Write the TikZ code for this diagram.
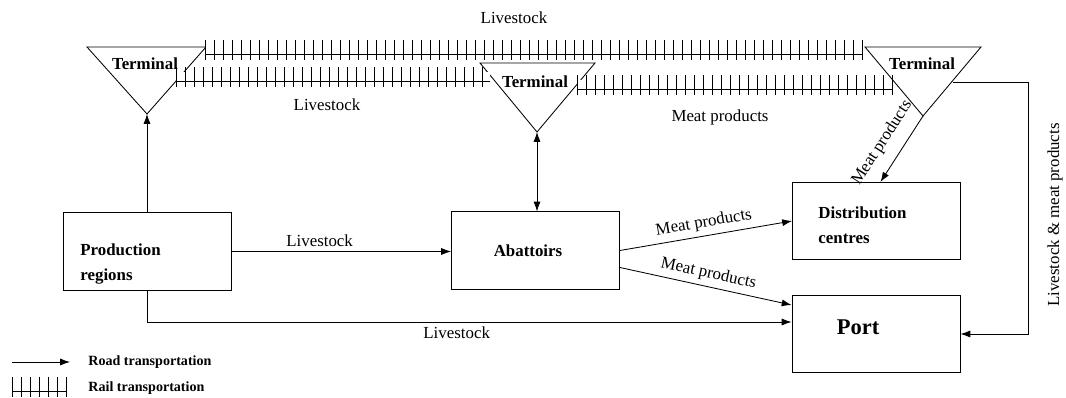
\documentclass[tikz,border=0pt]{standalone}
\usepackage{fontspec}
\setmainfont{Liberation Serif}
\usetikzlibrary{calc,arrows.meta,decorations.markings}

\tikzset{
  every node/.style={font=\fontsize{12}{14}\selectfont},
  box/.style={draw, minimum width=4.2cm, minimum height=1.93cm, inner sep=0pt},
  boxtext/.style={font=\fontsize{12}{17.5}\selectfont\bfseries, align=left, inner sep=0pt},
  legtext/.style={font=\fontsize{10}{12}\selectfont\bfseries, inner sep=0pt},
  rail/.style={draw=none,
    postaction={draw, double, double distance=6.4pt},
    postaction={decorate, decoration={markings,
      mark=between positions 0 and 1 step 6.4pt with {\draw[line width=0.6pt] (0,-7pt) -- (0,7pt);}}}},
}

\begin{document}
\begin{tikzpicture}[x=0.025cm, y=-0.025cm, >={Latex[length=7pt,width=5pt]}, line width=0.6pt]
    \useasboundingbox (0,0) rectangle (1066,398);

    % terminals
    \coordinate (t1apex) at (147,114);
    \coordinate (t2apex) at (537,132);
    \coordinate (t3apex) at (923,116);
    \draw (87,47) -- (206,47) -- (t1apex) -- cycle;
    \draw (480,63) -- (595,63) -- (t2apex) -- cycle;
    \draw (865,47) -- (981,47) -- (t3apex) -- cycle;
    \node[font=\fontsize{12}{14}\selectfont\bfseries] (t1) at (145,64) {Terminal};
    \node[font=\fontsize{12}{14}\selectfont\bfseries] (t2) at (535,82) {Terminal};
    \node[font=\fontsize{12}{14}\selectfont\bfseries] (t3) at (922,64) {Terminal};

    % rail lines
    \coordinate (r1a) at (205,50); \coordinate (r1b) at (862,50);
    \coordinate (r2a) at (176,77); \coordinate (r2b) at (490,77);
    \coordinate (r3a) at (577,85); \coordinate (r3b) at (893,85);
    \draw[rail] (r1a) -- (r1b);
    \draw[rail] (r2a) -- (r2b);
    \draw[rail] (r3a) -- (r3b);
    \node (lvtop) at (514,18) {Livestock};
    \node (lvmid) at (327,105) {Livestock};
    \node (mpmid) at (720,117) {Meat products};

    % boxes
    \node[box] (prod) at (147.5,251.5) {};
    \node[box] (abat) at (535.5,250.5) {};
    \node[box] (dist) at (876.5,221) {};
    \node[box] (port) at (876,334) {};
    \node[boxtext, anchor=west] (prodtxt) at (80,264) {Production\\regions};
    \node[boxtext] (abattxt) at (528,251) {Abattoirs};
    \node[boxtext, anchor=west] (disttxt) at (818,225) {Distribution\\centres};
    \node[boxtext, font=\fontsize{16}{18}\selectfont\bfseries] (porttxt) at (858,327) {Port};

    % road links
    \draw[->] (prod.north -| t1apex) -- (t1apex);
    \draw[->] (prod.east) -- node[above, pos=0.4] (lvroad) {Livestock} (prod.east -| abat.west);
    \draw[->] (prod.south) |- node[below, pos=0.74] (lvport) {Livestock} ($(port.west)+(0,-12)$);
    \draw[<->] (abat.north -| t2apex) -- (t2apex);
    \draw[->] (abat.east) -- node[above, sloped] (mpdist) {Meat products} (dist.west);
    \draw[->] ($(abat.east)+(0,17)$) -- node[above, sloped] (mpport) {Meat products} ($(port.west)+(0,-29)$);
    \draw[->] (t3apex) -- node[above=5pt, sloped, pos=0.57] (mpterm) {Meat products} ($(dist.north)+(4,0)$);
    \coordinate (t3side) at (953,82);
    \coordinate (bend) at (1028,82);
    \draw[->] (t3side) -- (bend) |- (port.east);
    \node[rotate=90] (sidelbl) at (1055,215) {Livestock \& meat products};

    % legend
    \coordinate (roada) at (12,362); \coordinate (roadb) at (70,362);
    \coordinate (raila) at (12,387); \coordinate (railb) at (66,387);
    \draw[->] (roada) -- (roadb);
    \draw[rail] (raila) -- (railb);
    \node[legtext, anchor=west] (roadtxt) at (88,362) {Road transportation};
    \node[legtext, anchor=west] (railtxt) at (88,388) {Rail transportation};
\end{tikzpicture}
\end{document}
